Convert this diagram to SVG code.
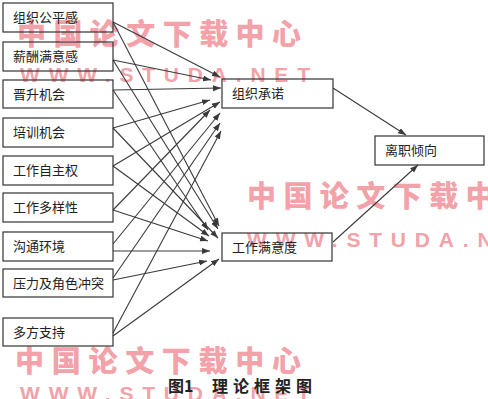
<svg xmlns="http://www.w3.org/2000/svg" width="488" height="399" viewBox="0 0 488 399">
<defs>
<style>
.bx{fill:none;stroke:#333;stroke-width:1.2}
.lb{font-family:"Noto Sans CJK SC","Noto Sans CJK JP",sans-serif;font-size:13px;fill:#222}
.wm{font-family:"Noto Sans CJK SC",sans-serif;font-weight:900;font-size:29px;fill:#f2a2a8}
.wl{font-family:"Liberation Sans",Arial,sans-serif;font-weight:bold;font-size:21px;fill:#f2a2a8}
.cn line{stroke:#3a3a3a;stroke-width:1.1;marker-end:url(#ah)}
.cap{font-family:"Noto Sans CJK SC",sans-serif;font-weight:bold;font-size:16px;fill:#222}
</style>
<marker id="ah" markerUnits="userSpaceOnUse" markerWidth="9" markerHeight="7" refX="8" refY="3" orient="auto">
<path d="M0,0 L8,3 L0,6 z" fill="#3a3a3a"/>
</marker>
</defs>
<rect width="488" height="399" fill="#fff"/>
<g id="watermark">
<text class="wm" x="17" y="45" textLength="284" lengthAdjust="spacing">中国论文下载中心</text>
<text class="wl" x="20" y="82" textLength="290" lengthAdjust="spacing">WWW.STUDA.NET</text>
<text class="wm" x="247" y="207" textLength="284" lengthAdjust="spacing">中国论文下载中心</text>
<text class="wl" x="247" y="247" textLength="290" lengthAdjust="spacing">WWW.STUDA.NET</text>
<text class="wm" x="15" y="372" textLength="286" lengthAdjust="spacing">中国论文下载中心</text>
<text class="wl" x="20" y="401" textLength="290" lengthAdjust="spacing">WWW.STUDA.NET</text>
</g>
<g id="connectors" class="cn">
<line x1="113" y1="22" x2="220" y2="77"/>
<line x1="113" y1="60" x2="211" y2="80"/>
<line x1="113" y1="90" x2="221" y2="88"/>
<line x1="113" y1="128" x2="210" y2="100"/>
<line x1="113" y1="166" x2="220" y2="102"/>
<line x1="113" y1="210" x2="210" y2="110"/>
<line x1="113" y1="244" x2="220" y2="113"/>
<line x1="113" y1="278" x2="220" y2="123"/>
<line x1="113" y1="333" x2="221" y2="131"/>
<line x1="113" y1="22" x2="219" y2="226"/>
<line x1="113" y1="60" x2="218" y2="229"/>
<line x1="113" y1="90" x2="208" y2="230"/>
<line x1="113" y1="128" x2="218" y2="238"/>
<line x1="113" y1="166" x2="209" y2="236"/>
<line x1="113" y1="210" x2="208" y2="241"/>
<line x1="113" y1="251" x2="210" y2="251"/>
<line x1="113" y1="280" x2="207" y2="261"/>
<line x1="113" y1="336" x2="219" y2="259"/>
<line x1="333" y1="88" x2="406" y2="135"/>
<line x1="333" y1="242" x2="418" y2="165"/>
</g>
<g id="n1"><rect class="bx" x="3" y="3" width="110" height="29"/><text class="lb" x="13" y="22">组织公平感</text></g>
<g id="n2"><rect class="bx" x="3" y="42" width="110" height="29"/><text class="lb" x="13" y="61">薪酬满意感</text></g>
<g id="n3"><rect class="bx" x="3" y="80" width="110" height="28"/><text class="lb" x="13" y="99">晋升机会</text></g>
<g id="n4"><rect class="bx" x="3" y="118" width="110" height="29"/><text class="lb" x="13" y="137">培训机会</text></g>
<g id="n5"><rect class="bx" x="3" y="156" width="110" height="29"/><text class="lb" x="13" y="175">工作自主权</text></g>
<g id="n6"><rect class="bx" x="3" y="193" width="110" height="29"/><text class="lb" x="13" y="212">工作多样性</text></g>
<g id="n7"><rect class="bx" x="3" y="232" width="110" height="29"/><text class="lb" x="13" y="251">沟通环境</text></g>
<g id="n8"><rect class="bx" x="3" y="269" width="110" height="28"/><text class="lb" x="13" y="288">压力及角色冲突</text></g>
<g id="n9"><rect class="bx" x="3" y="318" width="110" height="28"/><text class="lb" x="13" y="337">多方支持</text></g>
<g id="m1"><rect class="bx" x="222" y="79" width="111" height="29"/><text class="lb" x="232" y="98">组织承诺</text></g>
<g id="m2"><rect class="bx" x="222" y="233" width="110" height="28"/><text class="lb" x="232" y="252">工作满意度</text></g>
<g id="out"><rect class="bx" x="375" y="136" width="109" height="29"/><text class="lb" x="385" y="155">离职倾向</text></g>
<g id="caption">
<text class="cap" x="168" y="392">图1</text>
<text class="cap" x="212" y="392" textLength="100" lengthAdjust="spacing">理论框架图</text>
</g>
</svg>
